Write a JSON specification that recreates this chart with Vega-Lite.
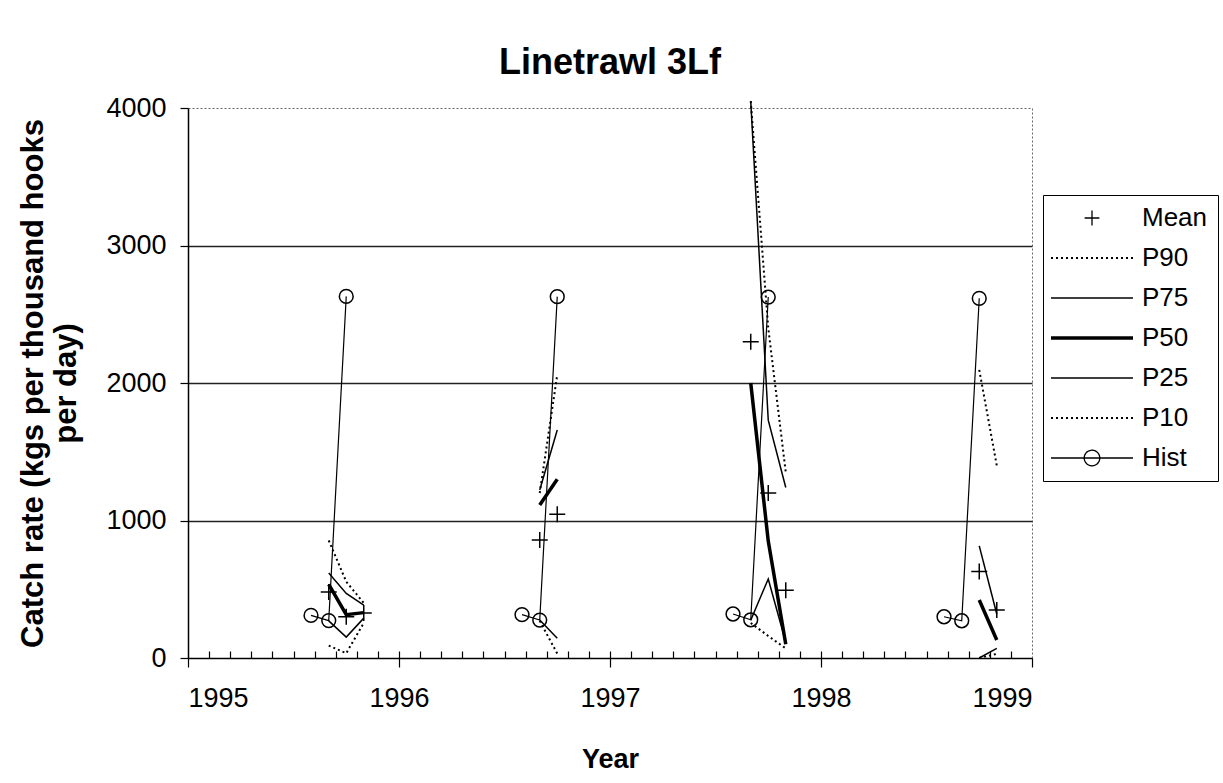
{
  "$schema": "https://vega.github.io/schema/vega-lite/v6.json",
  "width": 844,
  "height": 550,
  "autosize": {"type": "none"},
  "padding": {"left": 188, "top": 108, "right": 191, "bottom": 125},
  "background": "white",
  "title": {"text": "Linetrawl 3Lf", "fontSize": 36, "font": "Liberation Sans", "fontWeight": "bold", "color": "black", "anchor": "middle", "offset": 12},
  "config": {
    "font": "Liberation Sans",
    "view": {"stroke": "#666666", "strokeDash": [2, 2], "strokeWidth": 1},
    "axis": {"labelColor": "black", "titleColor": "black", "domainColor": "black", "tickColor": "black", "labelFont": "Liberation Sans", "titleFont": "Liberation Sans", "domainWidth": 1.5, "tickWidth": 1.2}
  },
  "datasets": {
    "d": [
      {"s": "Hist", "yr": 1995, "t": 1995.583, "v": 310},
      {"s": "Hist", "yr": 1995, "t": 1995.667, "v": 272},
      {"s": "Hist", "yr": 1995, "t": 1995.75, "v": 2630},
      {"s": "Hist", "yr": 1996, "t": 1996.583, "v": 315},
      {"s": "Hist", "yr": 1996, "t": 1996.667, "v": 276},
      {"s": "Hist", "yr": 1996, "t": 1996.75, "v": 2628},
      {"s": "Hist", "yr": 1997, "t": 1997.583, "v": 320},
      {"s": "Hist", "yr": 1997, "t": 1997.667, "v": 278},
      {"s": "Hist", "yr": 1997, "t": 1997.75, "v": 2625},
      {"s": "Hist", "yr": 1998, "t": 1998.583, "v": 300},
      {"s": "Hist", "yr": 1998, "t": 1998.667, "v": 271},
      {"s": "Hist", "yr": 1998, "t": 1998.75, "v": 2616},
      {"s": "Mean", "yr": 1995, "t": 1995.667, "v": 480},
      {"s": "Mean", "yr": 1995, "t": 1995.75, "v": 300},
      {"s": "Mean", "yr": 1995, "t": 1995.833, "v": 327},
      {"s": "Mean", "yr": 1996, "t": 1996.667, "v": 858},
      {"s": "Mean", "yr": 1996, "t": 1996.75, "v": 1045},
      {"s": "Mean", "yr": 1997, "t": 1997.667, "v": 2300},
      {"s": "Mean", "yr": 1997, "t": 1997.75, "v": 1200},
      {"s": "Mean", "yr": 1997, "t": 1997.833, "v": 492},
      {"s": "Mean", "yr": 1998, "t": 1998.75, "v": 630},
      {"s": "Mean", "yr": 1998, "t": 1998.833, "v": 350},
      {"s": "P90", "yr": 1995, "t": 1995.667, "v": 855},
      {"s": "P90", "yr": 1995, "t": 1995.75, "v": 555},
      {"s": "P90", "yr": 1995, "t": 1995.833, "v": 400},
      {"s": "P90", "yr": 1996, "t": 1996.667, "v": 1200},
      {"s": "P90", "yr": 1996, "t": 1996.75, "v": 2060},
      {"s": "P90", "yr": 1997, "t": 1997.667, "v": 4050},
      {"s": "P90", "yr": 1997, "t": 1997.75, "v": 2400},
      {"s": "P90", "yr": 1997, "t": 1997.833, "v": 1350},
      {"s": "P90", "yr": 1998, "t": 1998.75, "v": 2095},
      {"s": "P90", "yr": 1998, "t": 1998.833, "v": 1400},
      {"s": "P75", "yr": 1995, "t": 1995.667, "v": 618},
      {"s": "P75", "yr": 1995, "t": 1995.75, "v": 470},
      {"s": "P75", "yr": 1995, "t": 1995.833, "v": 385},
      {"s": "P75", "yr": 1996, "t": 1996.667, "v": 1222},
      {"s": "P75", "yr": 1996, "t": 1996.75, "v": 1658},
      {"s": "P75", "yr": 1997, "t": 1997.667, "v": 4050},
      {"s": "P75", "yr": 1997, "t": 1997.75, "v": 1730},
      {"s": "P75", "yr": 1997, "t": 1997.833, "v": 1240},
      {"s": "P75", "yr": 1998, "t": 1998.75, "v": 815},
      {"s": "P75", "yr": 1998, "t": 1998.833, "v": 320},
      {"s": "P50", "yr": 1995, "t": 1995.667, "v": 535},
      {"s": "P50", "yr": 1995, "t": 1995.75, "v": 315},
      {"s": "P50", "yr": 1995, "t": 1995.833, "v": 330},
      {"s": "P50", "yr": 1996, "t": 1996.667, "v": 1113},
      {"s": "P50", "yr": 1996, "t": 1996.75, "v": 1300},
      {"s": "P50", "yr": 1997, "t": 1997.667, "v": 2000},
      {"s": "P50", "yr": 1997, "t": 1997.75, "v": 850},
      {"s": "P50", "yr": 1997, "t": 1997.833, "v": 100},
      {"s": "P50", "yr": 1998, "t": 1998.75, "v": 422},
      {"s": "P50", "yr": 1998, "t": 1998.833, "v": 131},
      {"s": "P25", "yr": 1995, "t": 1995.667, "v": 270},
      {"s": "P25", "yr": 1995, "t": 1995.75, "v": 152},
      {"s": "P25", "yr": 1995, "t": 1995.833, "v": 290},
      {"s": "P25", "yr": 1996, "t": 1996.667, "v": 276},
      {"s": "P25", "yr": 1996, "t": 1996.75, "v": 143},
      {"s": "P25", "yr": 1997, "t": 1997.667, "v": 275},
      {"s": "P25", "yr": 1997, "t": 1997.75, "v": 575},
      {"s": "P25", "yr": 1997, "t": 1997.833, "v": 115},
      {"s": "P25", "yr": 1998, "t": 1998.75, "v": 0},
      {"s": "P25", "yr": 1998, "t": 1998.833, "v": 70},
      {"s": "P10", "yr": 1995, "t": 1995.667, "v": 90},
      {"s": "P10", "yr": 1995, "t": 1995.75, "v": 35},
      {"s": "P10", "yr": 1995, "t": 1995.833, "v": 255},
      {"s": "P10", "yr": 1996, "t": 1996.667, "v": 270},
      {"s": "P10", "yr": 1996, "t": 1996.75, "v": 32},
      {"s": "P10", "yr": 1997, "t": 1997.667, "v": 255},
      {"s": "P10", "yr": 1997, "t": 1997.75, "v": 160},
      {"s": "P10", "yr": 1997, "t": 1997.833, "v": 70},
      {"s": "P10", "yr": 1998, "t": 1998.75, "v": 0},
      {"s": "P10", "yr": 1998, "t": 1998.833, "v": 30}
    ]
  },
  "data": {"name": "d"},
  "resolve": {"axis": {"x": "independent"}},
  "layer": [
    {
      "transform": [{"filter": "datum.s == 'P90' || datum.s == 'P10'"}],
      "mark": {"type": "line", "strokeDash": [2, 3], "strokeWidth": 2},
      "encoding": {
        "x": {"field": "t", "type": "quantitative", "scale": {"domain": [1995, 1999], "nice": false, "zero": false},
          "axis": {"values": [1995, 1996, 1997, 1998, 1999], "format": "d", "labelFontSize": 27, "tickSize": 9, "labelPadding": 18, "grid": false, "title": "Year", "titleFontSize": 27, "titleFontWeight": "bold", "titlePadding": 35, "orient": "bottom"}},
        "y": {"field": "v", "type": "quantitative", "scale": {"domain": [0, 4000], "nice": false},
          "axis": {"values": [0, 1000, 2000, 3000, 4000], "format": "d", "labelFontSize": 27, "tickSize": 8, "labelPadding": 14,
            "grid": true, "gridColor": {"condition": {"test": "datum.value == 0 || datum.value == 4000", "value": "transparent"}, "value": "#222222"}, "gridWidth": 1.3,
            "title": ["Catch rate (kgs per thousand hooks", "per day)"], "titleFontSize": 31, "titleFontWeight": "bold", "titleLineHeight": 33,
            "titleX": -155, "titleY": 275, "titleAlign": "center", "titleBaseline": "middle", "titleAngle": -90}},
        "detail": {"field": "yr", "type": "nominal"},
        "color": {"field": "s", "type": "nominal",
          "scale": {"domain": ["Mean", "P90", "P75", "P50", "P25", "P10", "Hist"], "range": ["black", "black", "black", "black", "black", "black", "black"]},
          "legend": {"title": null, "orient": "none", "legendX": 855, "legendY": 87, "strokeColor": "black", "padding": 10,
            "labelFontSize": 26, "labelFont": "Liberation Sans", "labelColor": "black", "symbolSize": 6724, "rowPadding": 14, "labelOffset": 37, "symbolOffset": 26,
            "encode": {"symbols": {"update": {
              "shape": {"signal": "datum.value == 'Mean' ? 'M-0.18,0L0.18,0M0,-0.18L0,0.18' : datum.value == 'Hist' ? 'M-1,0L1,0M-0.19,0A0.19,0.19,0,1,1,0.19,0A0.19,0.19,0,1,1,-0.19,0' : 'stroke'"},
              "strokeDash": {"signal": "datum.value == 'P90' || datum.value == 'P10' ? [2, 3] : [1, 0]"},
              "strokeWidth": {"signal": "datum.value == 'P50' ? 3.5 : datum.value == 'P90' || datum.value == 'P10' ? 2 : 1.3"},
              "stroke": {"value": "black"},
              "fill": {"value": "transparent"},
              "opacity": {"value": 1}
            }}}}}
      }
    },
    {
      "transform": [{"filter": "datum.s == 'P75' || datum.s == 'P25'"}],
      "mark": {"type": "line", "strokeWidth": 1.5, "color": "black"},
      "encoding": {
        "x": {"field": "t", "type": "quantitative", "axis": null},
        "y": {"field": "v", "type": "quantitative"},
        "detail": [{"field": "yr", "type": "nominal"}, {"field": "s", "type": "nominal"}]
      }
    },
    {
      "transform": [{"filter": "datum.s == 'P50'"}],
      "mark": {"type": "line", "strokeWidth": 3.5, "color": "black"},
      "encoding": {
        "x": {"field": "t", "type": "quantitative", "axis": null},
        "y": {"field": "v", "type": "quantitative"},
        "detail": {"field": "yr", "type": "nominal"}
      }
    },
    {
      "transform": [{"filter": "datum.s == 'Hist'"}],
      "mark": {"type": "line", "strokeWidth": 1.2, "color": "black", "point": {"shape": "circle", "filled": false, "size": 190, "stroke": "black", "strokeWidth": 1.5, "fill": "transparent"}},
      "encoding": {
        "x": {"field": "t", "type": "quantitative", "axis": null},
        "y": {"field": "v", "type": "quantitative"},
        "detail": {"field": "yr", "type": "nominal"}
      }
    },
    {
      "transform": [{"filter": "datum.s == 'Mean'"}],
      "mark": {"type": "point", "shape": "M-1,0L1,0M0,-1L0,1", "filled": false, "size": 256, "stroke": "black", "strokeWidth": 1.5, "opacity": 1},
      "encoding": {
        "x": {"field": "t", "type": "quantitative",
          "axis": {"orient": "bottom", "values": [1995.1, 1995.2, 1995.3, 1995.4, 1995.5, 1995.6, 1995.7, 1995.8, 1995.9, 1996, 1996.1, 1996.2, 1996.3, 1996.4, 1996.5, 1996.6, 1996.7, 1996.8, 1996.9, 1997, 1997.1, 1997.2, 1997.3, 1997.4, 1997.5, 1997.6, 1997.7, 1997.8, 1997.9, 1998, 1998.1, 1998.2, 1998.3, 1998.4, 1998.5, 1998.6, 1998.7, 1998.8, 1998.9],
            "tickSize": -7, "labels": false, "domain": false, "grid": false, "title": null}},
        "y": {"field": "v", "type": "quantitative"}
      }
    }
  ]
}
